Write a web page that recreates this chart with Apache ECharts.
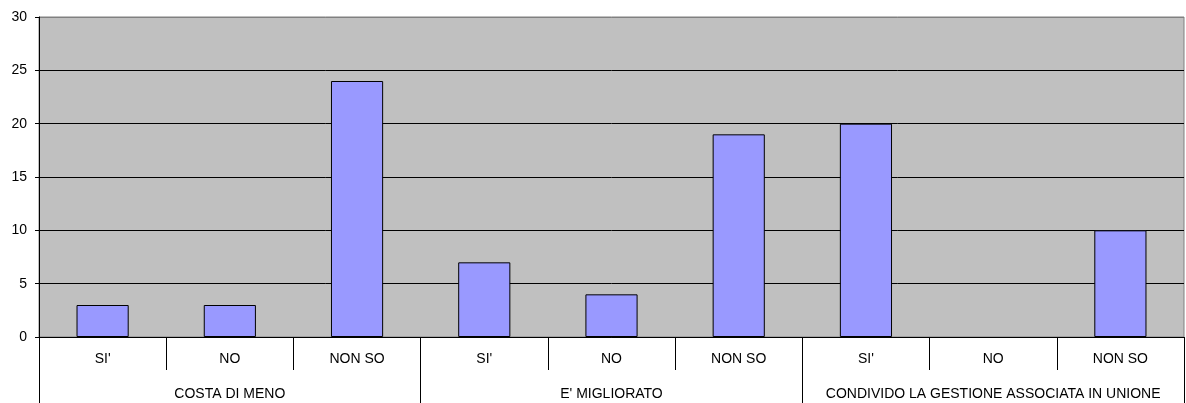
<!DOCTYPE html>
<html>
<head>
<meta charset="utf-8">
<script src="https://cdn.jsdelivr.net/npm/echarts@6/dist/echarts.min.js"></script>
<style>
  html, body { margin: 0; padding: 0; background: #fff; }
  #chart { width: 1186px; height: 403px; }
</style>
</head>
<body>
<div id="chart"></div>
<script>
// Answers per question
const groups = ["COSTA DI MENO", "E' MIGLIORATO", "CONDIVIDO LA GESTIONE ASSOCIATA IN UNIONE"];
const answers = ["SI'", "NO", "NON SO"];
const costaDiMeno = [3, 3, 24];
const eMigliorato = [7, 4, 19];
const condivido = [20, 0, 10];
const yTicks = { min: 0, max: 30, interval: 5 };

// Flattened inner categories (answer within each group)
const innerCats = [];
groups.forEach(() => answers.forEach(a => innerCats.push(a)));
const values = [].concat(costaDiMeno, eMigliorato, condivido).map(v =>
  v === 0 ? { value: 0, itemStyle: { borderWidth: 0 } } : v
);

const font = 'Liberation Sans, Arial, sans-serif';
const chart = echarts.init(document.getElementById('chart'), null, { renderer: 'canvas' });

// gridlines black, topmost one left to the grey plot border
const nLines = (yTicks.max - yTicks.min) / yTicks.interval + 1;
const splitColors = [];
for (let i = 0; i < nLines; i++) splitColors.push(i === nLines - 1 ? '#808080' : '#000');

chart.setOption({
  animation: false,
  grid: {
    left: 39, right: 2, top: 17, bottom: 66,
    show: true, backgroundColor: '#C0C0C0', borderColor: '#808080', borderWidth: 1
  },
  xAxis: [
    {
      type: 'category',
      data: innerCats.map((c, i) => i),
      position: 'bottom',
      axisLine: { show: true, lineStyle: { color: '#000', width: 1 } },
      axisTick: { show: true, alignWithLabel: false, length: 33, lineStyle: { color: '#000' } },
      axisLabel: {
        interval: 0, margin: 15, color: '#000', fontFamily: font, fontSize: 14,
        formatter: (v, i) => innerCats[i]
      }
    },
    {
      type: 'category',
      data: groups,
      position: 'bottom',
      offset: 0,
      axisLine: { show: false },
      axisTick: { show: true, length: 66, lineStyle: { color: '#000' } },
      axisLabel: { interval: 0, margin: 50, color: '#000', fontFamily: font, fontSize: 14 }
    }
  ],
  yAxis: {
    type: 'value',
    min: yTicks.min, max: yTicks.max, interval: yTicks.interval,
    axisLine: { show: true, lineStyle: { color: '#000' } },
    axisTick: { show: true, length: 4, lineStyle: { color: '#000' } },
    axisLabel: { color: '#000', fontFamily: font, fontSize: 14, margin: 12 },
    splitLine: { show: true, lineStyle: { color: splitColors, width: 1 } }
  },
  series: [{
    type: 'bar',
    xAxisIndex: 0,
    data: values,
    barWidth: '41%',
    itemStyle: { color: '#9999FF', borderColor: '#000', borderWidth: 1 }
  }]
});
</script>
</body>
</html>
